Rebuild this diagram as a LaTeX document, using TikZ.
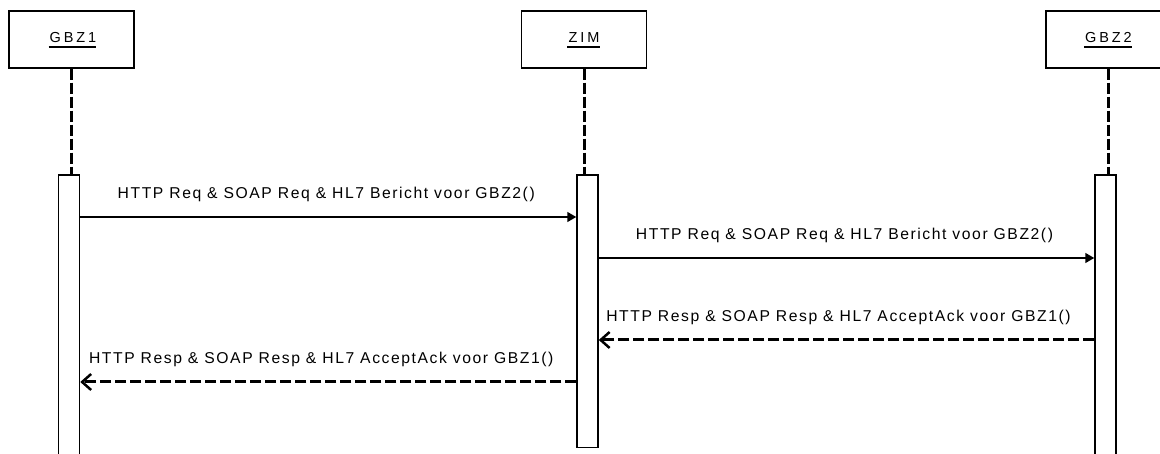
\documentclass[tikz,border=0pt]{standalone}
\usepackage{fontspec}
\setmainfont{Liberation Sans}
\newfontfamily\msgfont[LetterSpace=10]{Liberation Sans}
\newfontfamily\objfont[LetterSpace=20]{Liberation Sans}
\usetikzlibrary{arrows.meta}

\tikzset{
  objbox/.style={draw, line width=1.5bp, minimum width=125bp, minimum height=57bp, inner sep=0pt},
  objlabel/.style={font=\objfont\fontsize{14.5bp}{16bp}\selectfont, inner sep=0pt, anchor=base},
  objline/.style={line width=2.5bp},
  actbar/.style={draw, fill=white, line width=1.5bp, minimum width=21bp, inner sep=0pt},
  lifeline/.style={line width=3bp, dash pattern=on 11bp off 3bp},
  call/.style={line width=1.5bp, -{Triangle[length=9bp,width=10bp]}},
  reply/.style={line width=3bp, dash pattern=on 11bp off 4bp,
    -{Straight Barb[length=9bp,width=16bp,line width=2.5bp]}},
  msg/.style={font=\msgfont\fontsize{15.7bp}{18bp}\selectfont, inner sep=0pt, anchor=base, yshift=18bp}
}

\begin{document}
\begin{tikzpicture}[x=1bp,y=-1bp]
  % canvas
  \path[use as bounding box, fill=white] (0,0) rectangle (1160,454);

  % participants
  \node[objbox] (gbz1) at (71.5,39.5) {};
  \node[objbox] (zim)  at (584,39.5) {};
  \node[objbox] (gbz2) at (1108.5,39.5) {};

  \node[objlabel] (l1) at (73,42.5) {GBZ1};
  \node[objlabel] (l2) at (584,42.5) {ZIM};
  \node[objlabel] (l3) at (1108.5,42.5) {GBZ2};
  \foreach \l in {l1,l2,l3}
    \draw[objline] ([shift={(-1bp,-4.5bp)}]\l.base west) -- ([shift={(0bp,-4.5bp)}]\l.base east);

  % activation bars
  \node[actbar, minimum height=295bp] (b1) at (69,322.5) {};
  \node[actbar, minimum height=272.5bp] (b2) at (587.5,311.25) {};
  \node[actbar, minimum height=295bp] (b3) at (1105.5,322.5) {};

  % lifelines
  \draw[lifeline] (gbz1.south) -- (gbz1.south |- b1.north);
  \draw[lifeline] (zim.south) -- (zim.south |- b2.north);
  \draw[lifeline] (gbz2.south) -- (gbz2.south |- b3.north);

  % message levels
  \coordinate (m1) at (0,217);
  \coordinate (m2) at (0,258);
  \coordinate (m3) at (0,340);
  \coordinate (m4) at (0,382);

  % messages
  \draw[call] (b1.east |- m1) -- (b2.west |- m1)
    node[msg, midway, xshift=-2bp] (t1) {HTTP Req \& SOAP Req \& HL7 Bericht voor GBZ2()};
  \draw[call] (b2.east |- m2) -- (b3.west |- m2)
    node[msg, midway, xshift=-2bp] (t2) {HTTP Req \& SOAP Req \& HL7 Bericht voor GBZ2()};
  \draw[reply] (b3.west |- m3) -- (b2.east |- m3)
    node[msg, midway, xshift=-8bp] (t3) {HTTP Resp \& SOAP Resp \& HL7 AcceptAck voor GBZ1()};
  \draw[reply] (b2.west |- m4) -- (b1.east |- m4)
    node[msg, midway, xshift=-7bp] (t4) {HTTP Resp \& SOAP Resp \& HL7 AcceptAck voor GBZ1()};
\end{tikzpicture}
\end{document}
